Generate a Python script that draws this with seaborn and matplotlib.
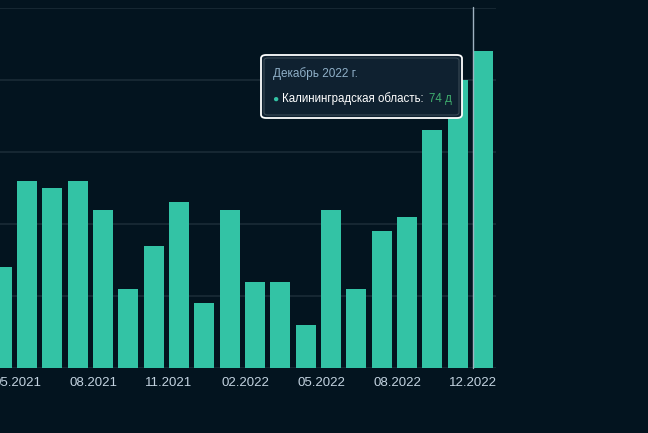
import matplotlib
matplotlib.use("Agg")
import matplotlib.pyplot as plt
from matplotlib.patches import FancyBboxPatch
import pandas as pd
import seaborn as sns

# monthly values (days), Apr 2021 .. Dec 2022 as shown
months = ["04.2021", "05.2021", "06.2021", "07.2021", "08.2021", "09.2021", "10.2021",
          "11.2021", "12.2021", "01.2022", "02.2022", "03.2022", "04.2022", "05.2022",
          "06.2022", "07.2022", "08.2022", "09.2022", "10.2022", "12.2022"]
days = [44, 56, 55, 56, 52, 41, 47, 53, 39, 52, 42, 42, 36, 52, 41, 49, 51, 63, 70, 74]
tick_idx = [1, 4, 7, 10, 13, 16, 19]
tick_labels = ["05.2021", "08.2021", "11.2021", "02.2022", "05.2022", "08.2022", "12.2022"]

bg = "#03141f"
bar_color = "#33c3a5"
grid_color = "#1b2c37"
label_color = "#c3d3e0"

sns.set_theme(style="dark")
plt.rcParams['font.family'] = ['Liberation Sans', 'DejaVu Sans']

df = pd.DataFrame({"month": months, "days": days})

fig = plt.figure(figsize=(6.48, 4.33), dpi=100, facecolor=bg)
ax = fig.add_axes([0, 65 / 433, 495.6 / 648, 360 / 433])
ax.set_facecolor(bg)

sns.barplot(data=df, x="month", y="days", order=months, color=bar_color,
            saturation=1, width=0.79, linewidth=0, edgecolor="none", ax=ax)

ax.set_xlim(-0.067, len(months) - 0.5)
ax.set_ylim(30, 80)
ax.set_yticks([30, 40, 50, 60, 70, 80])
ax.set_yticklabels([])
ax.tick_params(axis="y", length=0)
ax.yaxis.grid(True, color=grid_color, linewidth=1.2)
ax.xaxis.grid(False)
ax.set_axisbelow(True)
for s in ax.spines.values():
    s.set_visible(False)

ax.set_xticks([i - 0.395 for i in tick_idx])
ax.set_xticklabels(tick_labels, color=label_color, fontsize=9.5)
ax.tick_params(axis="x", length=4, color="#2b3c47", pad=2.5)
ax.set_xlabel("")
ax.set_ylabel("")

# crosshair on the last bar
ax.axvline(len(months) - 1 - 0.41, ymin=0, ymax=1.003, color="#9fb2c0", linewidth=1, clip_on=False)

# tooltip
x0, y0, w, h = 261, 433 - 118, 201, 63
box = FancyBboxPatch((x0 / 648, y0 / 433), w / 648, h / 433,
                     boxstyle="round,pad=0,rounding_size=0.008",
                     transform=fig.transFigure, facecolor="#0f2130",
                     edgecolor="white", linewidth=1.3, zorder=10)
fig.patches.append(box)
inner = FancyBboxPatch(((x0 + 3) / 648, (y0 + 3) / 433), (w - 6) / 648, (h - 6) / 433,
                       boxstyle="round,pad=0,rounding_size=0.006",
                       transform=fig.transFigure, facecolor="none",
                       edgecolor="#3a4a55", linewidth=0.8, zorder=11)
fig.patches.append(inner)

fig.text(273 / 648, 1 - 74 / 433, "Декабрь 2022 г.", color="#8fb0c8",
         fontsize=8.5, va="center", ha="left", zorder=12)
fig.text(272.5 / 648, 1 - 98.5 / 433, "●", color=bar_color, fontsize=7.5,
         va="center", ha="left", zorder=12)
fig.text(282 / 648, 1 - 99 / 433, "Калининградская область:", color="white",
         fontsize=8.3, va="center", ha="left", zorder=12)
fig.text(429 / 648, 1 - 99 / 433, "74 д", color="#3fae6e", fontsize=8.3,
         va="center", ha="left", zorder=12)

fig.savefig("out.png", dpi=100, facecolor=bg)
